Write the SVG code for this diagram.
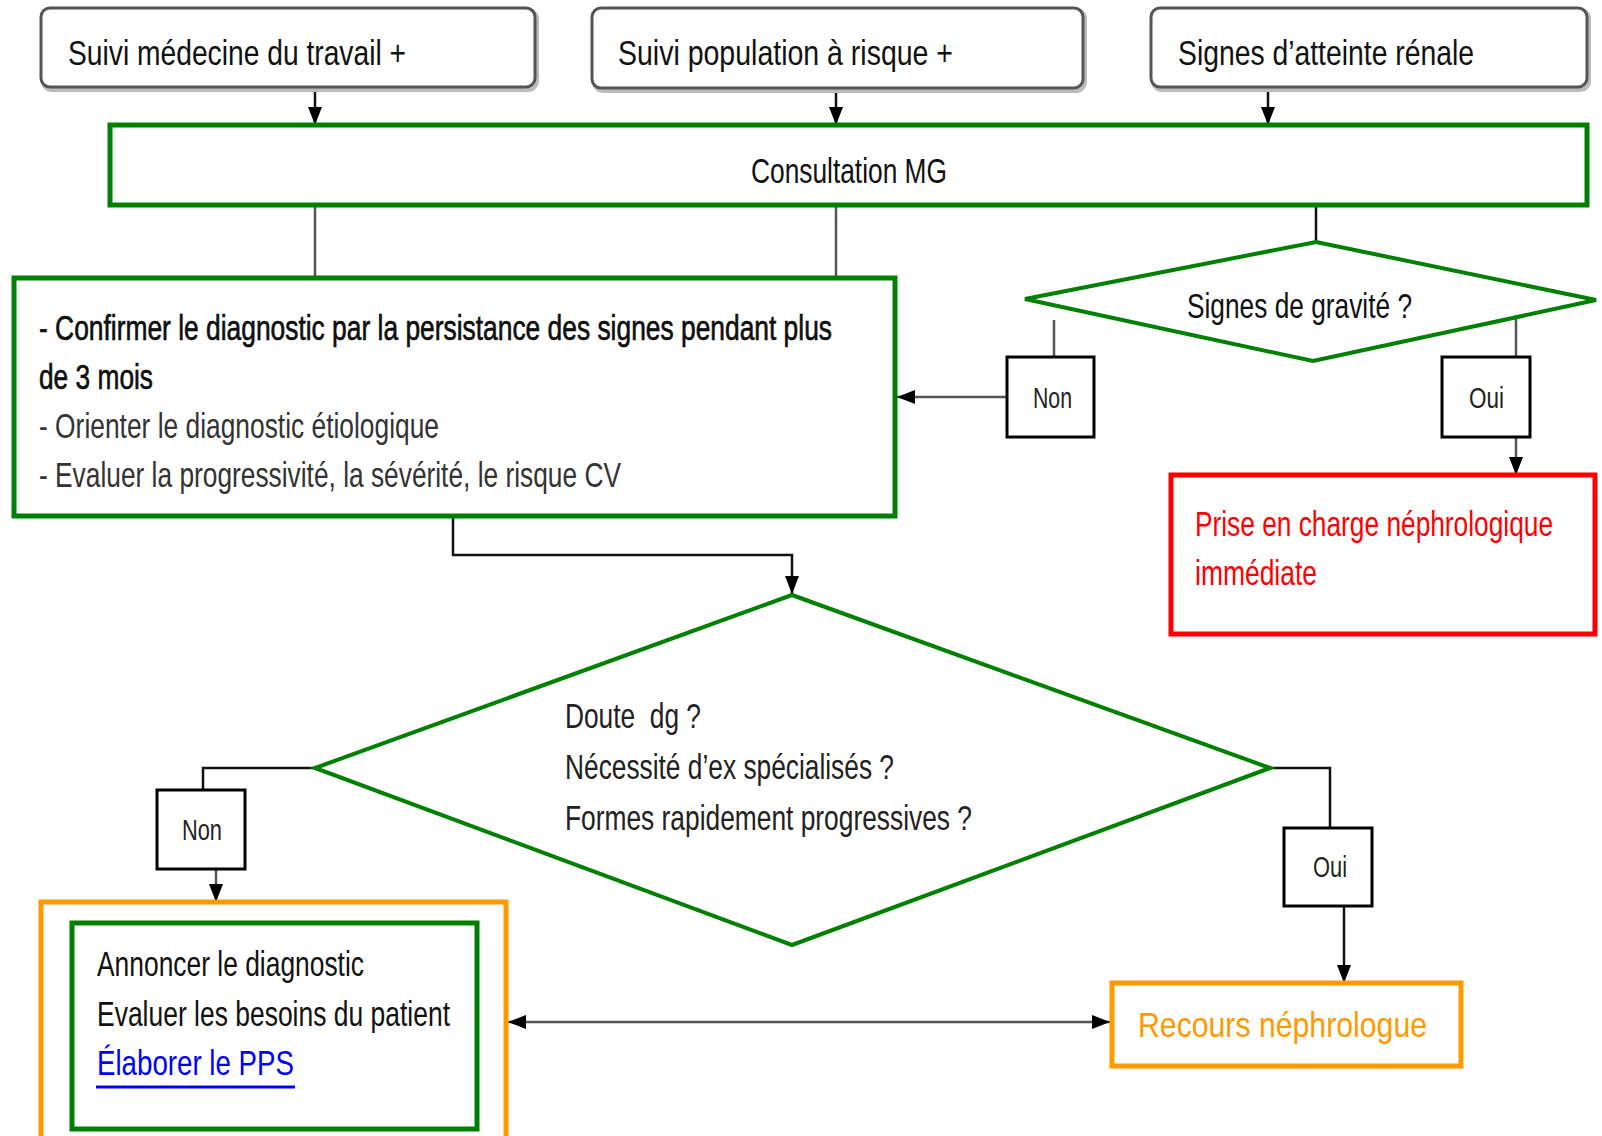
<svg xmlns="http://www.w3.org/2000/svg" width="1602" height="1136" viewBox="0 0 1602 1136">
<defs>
<style>
text{font-family:"Liberation Sans",Arial,sans-serif;font-size:35px;fill:#111;}
.lbl{font-size:29px;fill:#222;}
.top{fill:#fff;stroke:#555;stroke-width:3;}
.shadow{fill:none;stroke:#bbb;stroke-width:4;}
.g{fill:#fff;stroke:#008000;stroke-width:5;}
.gd{fill:#fff;stroke:#008000;stroke-width:4;}
.yn{fill:#fff;stroke:#000;stroke-width:3;}
.c{fill:none;stroke:#111;stroke-width:2.5;}
.cg{fill:none;stroke:#555;stroke-width:2.5;}
.bold{stroke:#000;stroke-width:0.6;}
</style>
<marker id="ah" markerUnits="userSpaceOnUse" markerWidth="18" markerHeight="16" viewBox="0 0 18 16" refX="18" refY="8" orient="auto-start-reverse">
<path d="M0,1 L18,8 L0,15 z" fill="#000"/>
</marker>
</defs>

<g id="connectors">
<path class="c" d="M315,88 V125" marker-end="url(#ah)"/>
<path class="c" d="M836,90 V125" marker-end="url(#ah)"/>
<path class="c" d="M1268,88 V125" marker-end="url(#ah)"/>
<path class="cg" d="M315,205 V278"/>
<path class="cg" d="M836,205 V278"/>
<path class="c" d="M1316,205 V242"/>
<path class="cg" d="M1054,320 V357"/>
<path class="cg" d="M1516,318 V357"/>
<path class="cg" d="M1007,397 H897" marker-end="url(#ah)"/>
<path class="cg" d="M1516,437 V475" marker-end="url(#ah)"/>
<path class="c" d="M453,516 V555 H792 V594" marker-end="url(#ah)"/>
<path class="c" d="M315,768 H203 V790"/>
<path class="cg" d="M216,869 V902" marker-end="url(#ah)"/>
<path class="c" d="M1270,768 H1330 V828"/>
<path class="c" d="M1344,906 V983" marker-end="url(#ah)"/>
<path class="cg" d="M508,1022 H1110" marker-start="url(#ah)" marker-end="url(#ah)"/>
</g>

<g id="n-medecine">
<rect class="shadow" x="43" y="10" width="494" height="80" rx="9"/>
<rect class="top" x="41" y="8" width="494" height="79" rx="9"/>
<text x="68" y="65" textLength="338" lengthAdjust="spacingAndGlyphs">Suivi médecine du travail +</text>
</g>
<g id="n-population">
<rect class="shadow" x="594" y="10" width="491" height="81" rx="9"/>
<rect class="top" x="592" y="8" width="491" height="80" rx="9"/>
<text x="618" y="65" textLength="335" lengthAdjust="spacingAndGlyphs">Suivi population à risque +</text>
</g>
<g id="n-signes">
<rect class="shadow" x="1153" y="10" width="436" height="80" rx="9"/>
<rect class="top" x="1151" y="8" width="436" height="79" rx="9"/>
<text x="1178" y="65" textLength="296" lengthAdjust="spacingAndGlyphs">Signes d’atteinte rénale</text>
</g>

<g id="n-consultation">
<rect class="g" x="110" y="125" width="1477" height="80"/>
<text x="751" y="183" textLength="196" lengthAdjust="spacingAndGlyphs" fill="#222">Consultation MG</text>
</g>

<g id="n-confirmer">
<rect class="g" x="14" y="278" width="881" height="238"/>
<text class="bold" x="39" y="340" textLength="793" lengthAdjust="spacingAndGlyphs">- Confirmer le diagnostic par la persistance des signes pendant plus</text>
<text class="bold" x="39" y="389" textLength="114" lengthAdjust="spacingAndGlyphs">de 3 mois</text>
<text x="39" y="438" textLength="400" lengthAdjust="spacingAndGlyphs" style="fill:#333">- Orienter le diagnostic étiologique</text>
<text x="39" y="487" textLength="582" lengthAdjust="spacingAndGlyphs" style="fill:#333">- Evaluer la progressivité, la sévérité, le risque CV</text>
</g>

<g id="n-gravite">
<polygon class="gd" points="1316,242 1596,300 1313,361 1025,299"/>
<text x="1187" y="318" textLength="225" lengthAdjust="spacingAndGlyphs">Signes de gravité ?</text>
</g>

<g id="n-non1">
<rect class="yn" x="1007" y="357" width="87" height="80"/>
<text class="lbl" x="1033" y="408" textLength="39" lengthAdjust="spacingAndGlyphs">Non</text>
</g>
<g id="n-oui1">
<rect class="yn" x="1442" y="357" width="88" height="80"/>
<text class="lbl" x="1469" y="408" textLength="35" lengthAdjust="spacingAndGlyphs">Oui</text>
</g>

<g id="n-prise">
<rect x="1171" y="475" width="424" height="159" fill="#fff" stroke="#ff0000" stroke-width="5"/>
<text transform="translate(1195,536) scale(0.78,1)" x="0" y="0" textLength="459" lengthAdjust="spacingAndGlyphs" style="fill:#ff0000">Prise en charge néphrologique</text>
<text x="1195" y="585" textLength="122" lengthAdjust="spacingAndGlyphs" style="fill:#ff0000">immédiate</text>
</g>

<g id="n-doute">
<polygon class="gd" points="792,595 1270,768 792,945 315,768"/>
<text x="565" y="728" textLength="136" lengthAdjust="spacingAndGlyphs" style="fill:#222;white-space:pre">Doute  dg ?</text>
<text x="565" y="779" textLength="329" lengthAdjust="spacingAndGlyphs" style="fill:#222">Nécessité d’ex spécialisés ?</text>
<text x="565" y="830" textLength="407" lengthAdjust="spacingAndGlyphs" style="fill:#222">Formes rapidement progressives ?</text>
</g>

<g id="n-non2">
<rect class="yn" x="157" y="790" width="88" height="79"/>
<text class="lbl" x="182" y="840" textLength="40" lengthAdjust="spacingAndGlyphs">Non</text>
</g>
<g id="n-oui2">
<rect class="yn" x="1284" y="828" width="88" height="78"/>
<text class="lbl" x="1313" y="877" textLength="34" lengthAdjust="spacingAndGlyphs">Oui</text>
</g>

<g id="n-annoncer">
<rect x="41" y="902" width="465" height="240" fill="#fff" stroke="#ff9900" stroke-width="5"/>
<rect class="g" x="72" y="923" width="405" height="206"/>
<text x="97" y="976" textLength="267" lengthAdjust="spacingAndGlyphs">Annoncer le diagnostic</text>
<text x="97" y="1026" textLength="353" lengthAdjust="spacingAndGlyphs">Evaluer les besoins du patient</text>
<text x="97" y="1075" textLength="197" lengthAdjust="spacingAndGlyphs" style="fill:#0000ff">Élaborer le PPS</text>
<line x1="96" y1="1087" x2="295" y2="1087" stroke="#0000ff" stroke-width="3"/>
</g>

<g id="n-recours">
<rect x="1112" y="983" width="349" height="83" fill="#fff" stroke="#ff9900" stroke-width="5"/>
<text x="1138" y="1037" textLength="289" lengthAdjust="spacingAndGlyphs" style="fill:#ff9900">Recours néphrologue</text>
</g>
</svg>
